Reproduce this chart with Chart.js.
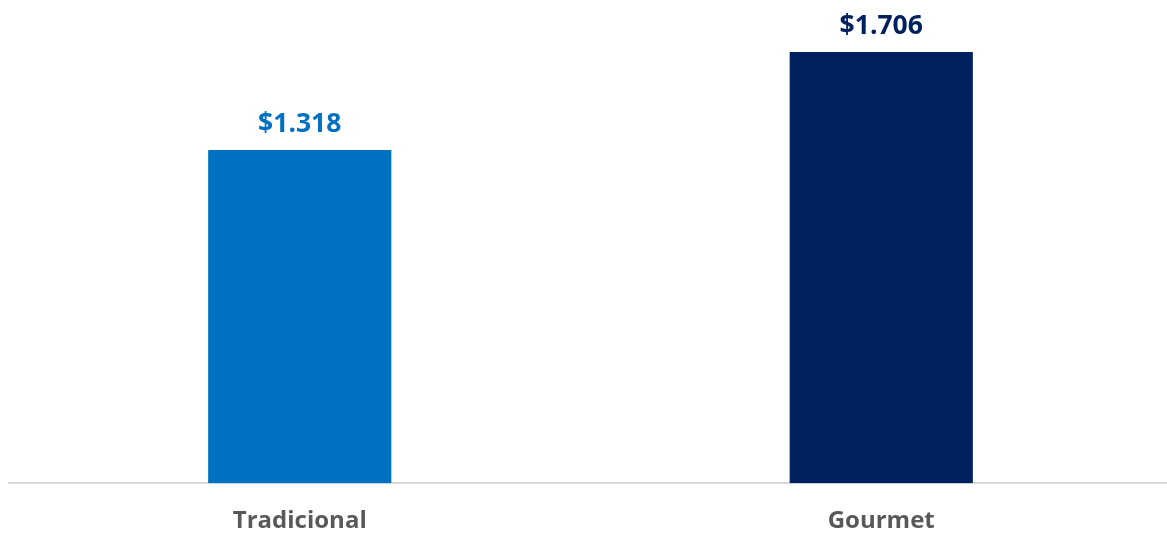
<!DOCTYPE html>
<html>
<head>
<meta charset="utf-8">
<script src="https://cdn.jsdelivr.net/npm/chart.js@4"></script>
<style>
  html, body { margin: 0; padding: 0; background: #fff; overflow: hidden; }
  #wrap { width: 1172px; height: 533px; position: relative; }
</style>
</head>
<body>
<div id="wrap"><canvas id="myChart"></canvas></div>
<script>
// Données
const categories = ['Tradicional', 'Gourmet'];
const values = [1318, 1706];
const valueLabels = ['$1.318', '$1.706'];
const barColors = ['#0070C0', '#002060'];

// Étiquettes au-dessus des barres
const topLabels = {
  id: 'topLabels',
  afterDatasetsDraw(chart) {
    const ctx = chart.ctx;
    const meta = chart.getDatasetMeta(0);
    ctx.save();
    ctx.font = 'bold 26.5px "Open Sans"';
    ctx.textAlign = 'center';
    ctx.textBaseline = 'alphabetic';
    meta.data.forEach((bar, i) => {
      ctx.fillStyle = barColors[i];
      ctx.fillText(valueLabels[i], bar.x, bar.y - 18);
    });
    ctx.restore();
  }
};

const ctx = document.getElementById('myChart').getContext('2d');

new Chart(ctx, {
  type: 'bar',
  data: {
    labels: categories,
    datasets: [{
      data: values,
      backgroundColor: barColors,
      barPercentage: 0.63,
      categoryPercentage: 0.5
    }]
  },
  options: {
    responsive: true,
    maintainAspectRatio: false,
    animation: false,
    layout: { padding: { top: 3, left: 9, right: 0, bottom: -19 } },
    plugins: {
      legend: { display: false },
      tooltip: { enabled: false }
    },
    scales: {
      x: {
        grid: { display: false },
        border: { display: true, color: '#d9d9d9', width: 2 },
        ticks: {
          color: '#595959',
          padding: 16,
          font: { family: '"Open Sans"', size: 24, weight: 'bold' }
        }
      },
      y: {
        display: false,
        min: 0,
        max: 1900
      }
    }
  },
  plugins: [topLabels]
});
</script>
</body>
</html>
